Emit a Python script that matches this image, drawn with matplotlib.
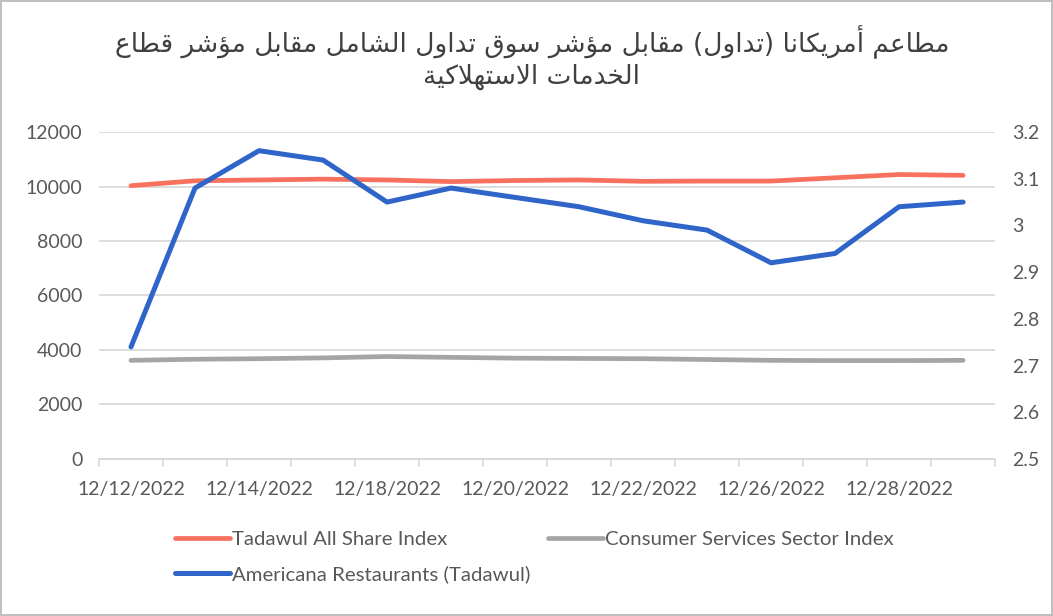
import numpy as np
import matplotlib
matplotlib.use('Agg')
from matplotlib import pyplot
from matplotlib.ticker import FuncFormatter, FixedLocator, MultipleLocator


#data:
dates     = ['12/12/2022', '12/13/2022', '12/14/2022', '12/15/2022', '12/18/2022',
             '12/19/2022', '12/20/2022', '12/21/2022', '12/22/2022', '12/25/2022',
             '12/26/2022', '12/27/2022', '12/28/2022', '12/29/2022']
tasi      = [10030, 10210, 10240, 10270, 10240, 10180, 10220,
             10240, 10190, 10200, 10200, 10320, 10440, 10410]
consumer  = [3620, 3660, 3680, 3710, 3760, 3730, 3700,
             3690, 3680, 3650, 3620, 3610, 3610, 3620]
americana = [2.74, 3.08, 3.16, 3.14, 3.05, 3.08, 3.06,
             3.04, 3.01, 2.99, 2.92, 2.94, 3.04, 3.05]
labels    = ['Tadawul All Share Index', 'Consumer Services Sector Index',
             'Americana Restaurants (Tadawul)']
title1    = 'مطاعم أمريكانا (تداول) مقابل مؤشر سوق تداول الشامل مقابل مؤشر قطاع'
title2    = 'الخدمات الاستهلاكية'


#minimal arabic shaping (matplotlib has no complex text layout):
FORMS = {
    'ا': (0xFE8D, 0xFE8E), 'أ': (0xFE83, 0xFE84), 'ؤ': (0xFE85, 0xFE86),
    'د': (0xFEA9, 0xFEAA), 'ر': (0xFEAD, 0xFEAE), 'و': (0xFEED, 0xFEEE),
    'ة': (0xFE93, 0xFE94),
    'ب': (0xFE8F, 0xFE90, 0xFE91, 0xFE92), 'ت': (0xFE95, 0xFE96, 0xFE97, 0xFE98),
    'خ': (0xFEA5, 0xFEA6, 0xFEA7, 0xFEA8), 'س': (0xFEB1, 0xFEB2, 0xFEB3, 0xFEB4),
    'ش': (0xFEB5, 0xFEB6, 0xFEB7, 0xFEB8), 'ط': (0xFEC1, 0xFEC2, 0xFEC3, 0xFEC4),
    'ع': (0xFEC9, 0xFECA, 0xFECB, 0xFECC), 'ق': (0xFED5, 0xFED6, 0xFED7, 0xFED8),
    'ك': (0xFED9, 0xFEDA, 0xFEDB, 0xFEDC), 'ل': (0xFEDD, 0xFEDE, 0xFEDF, 0xFEE0),
    'م': (0xFEE1, 0xFEE2, 0xFEE3, 0xFEE4), 'ن': (0xFEE5, 0xFEE6, 0xFEE7, 0xFEE8),
    'ه': (0xFEE9, 0xFEEA, 0xFEEB, 0xFEEC), 'ي': (0xFEF1, 0xFEF2, 0xFEF3, 0xFEF4),
}
LAMALEF = {'ا': (0xFEFB, 0xFEFC), 'أ': (0xFEF7, 0xFEF8)}

def shape(text):
    out = []
    n = len(text)
    i = 0
    prev = False
    while i < n:
        c = text[i]
        if c not in FORMS:
            out.append(c)
            prev = False
            i += 1
            continue
        if c == 'ل' and i + 1 < n and text[i+1] in LAMALEF:
            f = LAMALEF[text[i+1]]
            out.append(chr(f[1] if prev else f[0]))
            prev = False
            i += 2
            continue
        f = FORMS[c]
        nxt = text[i+1] if i + 1 < n else ''
        joins = len(f) == 4 and nxt in FORMS
        if prev and joins:
            g = f[3]
        elif prev:
            g = f[1]
        elif joins:
            g = f[2]
        else:
            g = f[0]
        out.append(chr(g))
        prev = joins
        i += 1
    vis = ''.join(out)[::-1]
    return vis.translate(str.maketrans('()', ')('))


#colours:
c_red  = '#F8705E'
c_grey = '#A5A5A5'
c_blue = '#2F65C9'
c_text = '#595959'
c_grid = '#D9D9D9'

pyplot.rcParams['font.family'] = ['Lato', 'DejaVu Sans']

x = np.arange(len(dates))

fig = pyplot.figure(figsize=(10.53, 6.16), dpi=100, edgecolor='#BFBFBF', linewidth=1.5)
ax0 = fig.add_axes([0.094, 0.2549, 0.851, 0.5308])
ax1 = ax0.twinx()

h0 = ax0.plot(x, tasi, color=c_red, lw=3.4, solid_capstyle='round', zorder=3)[0]
h1 = ax0.plot(x, consumer, color=c_grey, lw=3.4, solid_capstyle='round', zorder=3)[0]
h2 = ax1.plot(x, americana, color=c_blue, lw=3.6, solid_capstyle='round', zorder=3)[0]

ax0.set_ylim(0, 12000)
ax0.yaxis.set_major_locator(MultipleLocator(2000))
ax1.set_ylim(2.5, 3.2)
ax1.yaxis.set_major_locator(MultipleLocator(0.1))
ax1.yaxis.set_major_formatter(FuncFormatter(lambda v, p: '%g' % round(v, 2)))
ax0.set_xlim(-0.5, len(dates) - 0.5)

ax0.set_xticks(x[::2])
ax0.set_xticklabels(dates[::2])
ax0.xaxis.set_minor_locator(FixedLocator(np.arange(-0.5, len(dates), 1.0)))
ax0.tick_params(axis='x', which='major', length=0, pad=16, labelsize=14, labelcolor=c_text)
ax0.tick_params(axis='x', which='minor', length=6, width=1.2, color=c_grid)
ax0.tick_params(axis='y', length=0, pad=12, labelsize=14, labelcolor=c_text)
ax1.tick_params(axis='y', length=0, pad=12, labelsize=14, labelcolor=c_text)

ax0.grid(axis='y', color=c_grid, lw=1.3)
ax0.set_axisbelow(True)
for ax in [ax0, ax1]:
    for s in ['top', 'left', 'right']:
        ax.spines[s].set_visible(False)
    ax.spines['bottom'].set_color(c_grid)
    ax.spines['bottom'].set_linewidth(1.3)
ax1.spines['bottom'].set_visible(False)

#title:
fig.text(0.505, 0.932, shape(title1), ha='center', va='center', size=19,
         family='DejaVu Sans', color='#404040')
fig.text(0.505, 0.876, shape(title2), ha='center', va='center', size=19,
         family='DejaVu Sans', color='#404040')

#legend:
fig.legend([h0, h2, h1], [labels[0], labels[2], labels[1]], ncol=2,
           loc='upper left', bbox_to_anchor=(0.149, 0.168), frameon=False,
           fontsize=14.7, labelcolor=c_text, handlelength=2.7, handletextpad=0.1,
           columnspacing=0.85, labelspacing=0.85)

pyplot.savefig('out.png', dpi=100)
